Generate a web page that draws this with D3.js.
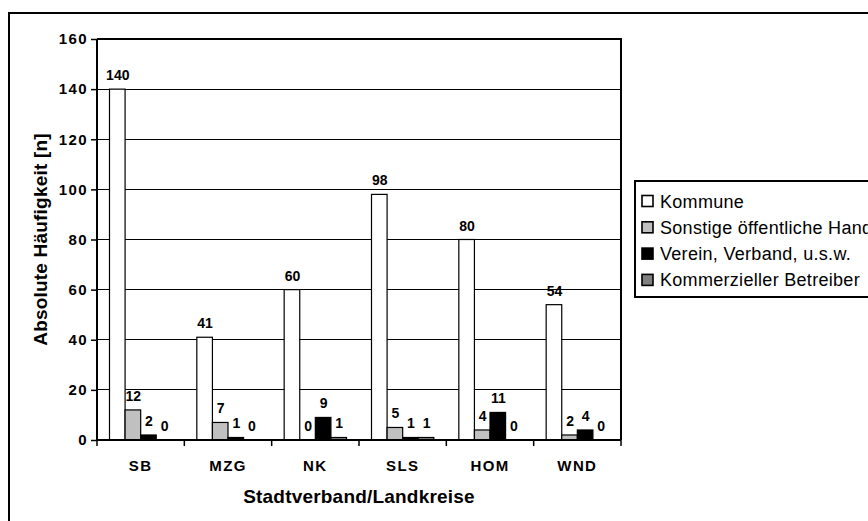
<!DOCTYPE html>
<html>
<head>
<meta charset="utf-8">
<script src="https://cdn.jsdelivr.net/npm/d3@7"></script>
<style>
  body { margin: 0; background: #fff; }
  svg { display: block; font-family: "Liberation Sans", Arial, sans-serif; }
  .axis text { font-weight: bold; font-size: 15px; letter-spacing: 1.4px; }
  .lbl { font-weight: bold; font-size: 14px; }
</style>
</head>
<body>
<svg class="chart"></svg>
<script>
var regions = ["SB", "MZG", "NK", "SLS", "HOM", "WND"];
var seriesNames = ["Kommune", "Sonstige öffentliche Hand", "Verein, Verband, u.s.w.", "Kommerzieller Betreiber"];
var kommune = [140, 41, 60, 98, 80, 54];
var sonstige = [12, 7, 0, 5, 4, 2];
var verein = [2, 1, 9, 1, 11, 4];
var kommerziell = [0, 0, 1, 1, 0, 0];
var yTicks = [0, 20, 40, 60, 80, 100, 120, 140, 160];

var colors = ["#ffffff", "#c0c0c0", "#000000", "#808080"];
var series = [kommune, sonstige, verein, kommerziell];

var W = 868, H = 521;
var margin = {top: 39, left: 97, right: 247, bottom: 80};
var width = W - margin.left - margin.right,
	height = H - margin.top - margin.bottom - 1;

var chart = d3.select('.chart').attr('width', W).attr('height', H);

// outer frame
chart.append('rect')
	.attr('x', 9).attr('y', 13)
	.attr('width', 1000).attr('height', 1000)
	.attr('fill', 'none').attr('stroke', '#000').attr('stroke-width', 2);

var g = chart.append('g')
	.attr('transform', 'translate(' + margin.left + ',' + margin.top + ')');

var x = d3.scaleBand().domain(regions).range([0, width]).padding(0);
var pad = 12.5;
var x1 = d3.scaleBand().domain(d3.range(series.length))
	.range([pad, x.bandwidth() - pad]).padding(0);
var y = d3.scaleLinear().domain([0, 160]).range([height, 0]);

// gridlines
g.append('g').selectAll('line')
	.data(yTicks.slice(1))
	.enter().append('line')
	.attr('x1', 0).attr('x2', width)
	.attr('y1', function(d){ return y(d); })
	.attr('y2', function(d){ return y(d); })
	.attr('stroke', '#000').attr('stroke-width', 1)
	.attr('shape-rendering', 'crispEdges');

// bars
var rows = [];
regions.forEach(function(r, i){
	series.forEach(function(s, j){
		rows.push({region: r, k: j, v: s[i]});
	});
});

g.append('g').selectAll('rect')
	.data(rows)
	.enter().append('rect')
	.attr('x', function(d){ return x(d.region) + x1(d.k); })
	.attr('y', function(d){ return y(d.v); })
	.attr('width', x1.bandwidth())
	.attr('height', function(d){ return height - y(d.v); })
	.attr('fill', function(d){ return colors[d.k]; })
	.attr('stroke', '#000').attr('stroke-width', 1.2);

g.append('g').selectAll('text')
	.data(rows)
	.enter().append('text')
	.attr('class', 'lbl')
	.attr('text-anchor', 'middle')
	.attr('x', function(d){ return x(d.region) + x1(d.k) + x1.bandwidth() / 2 + 0.5; })
	.attr('y', function(d){ return y(d.v) - 9; })
	.text(function(d){ return d.v; });

// plot frame top/right
g.append('path')
	.attr('d', 'M0,0H' + width + 'V' + height)
	.attr('fill', 'none').attr('stroke', '#000').attr('stroke-width', 2);

var yAxis = d3.axisLeft(y).tickValues(yTicks).tickSize(6).tickPadding(3);
var yg = g.append('g').attr('class', 'axis').call(yAxis);
yg.select('.domain').attr('stroke-width', 2).attr('d', 'M0,0V' + height);
yg.selectAll('.tick line').attr('stroke-width', 1.5);

var xAxis = d3.axisBottom(x).tickSize(0).tickPadding(20);
var xg = g.append('g').attr('class', 'axis')
	.attr('transform', 'translate(0,' + height + ')')
	.call(xAxis);
xg.select('.domain').attr('stroke-width', 2).attr('d', 'M0,0H' + width);
xg.append('g').selectAll('line')
	.data(d3.range(regions.length + 1))
	.enter().append('line')
	.attr('x1', function(i){ return i * x.bandwidth(); })
	.attr('x2', function(i){ return i * x.bandwidth(); })
	.attr('y1', 0).attr('y2', 6)
	.attr('stroke', '#000').attr('stroke-width', 1.5);

// axis titles
chart.append('text')
	.attr('x', margin.left + width / 2).attr('y', 503)
	.attr('text-anchor', 'middle')
	.style('font-weight', 'bold').style('font-size', '19px')
	.style('letter-spacing', '0.2px')
	.text('Stadtverband/Landkreise');

chart.append('text')
	.attr('transform', 'translate(47,' + (margin.top + height / 2) + ') rotate(-90)')
	.attr('text-anchor', 'middle')
	.style('font-weight', 'bold').style('font-size', '19px')
	.style('letter-spacing', '0.2px')
	.text('Absolute Häufigkeit [n]');

// legend
var legend = chart.append('g').attr('transform', 'translate(635,181)');
legend.append('rect')
	.attr('x', 0).attr('y', 0).attr('width', 300).attr('height', 116)
	.attr('fill', '#fff').attr('stroke', '#000').attr('stroke-width', 2);
var items = legend.selectAll('.item')
	.data(seriesNames)
	.enter().append('g')
	.attr('transform', function(d, i){ return 'translate(7,' + (20 + i * 26.3) + ')'; });
items.append('rect')
	.attr('x', 0).attr('y', -5.5).attr('width', 11).attr('height', 11)
	.attr('fill', function(d, i){ return colors[i]; })
	.attr('stroke', '#000').attr('stroke-width', 1.6);
items.append('text')
	.attr('x', 18).attr('y', 6.5)
	.style('font-size', '18px')
	.style('letter-spacing', '0.3px')
	.text(function(d){ return d; });
</script>
</body>
</html>
